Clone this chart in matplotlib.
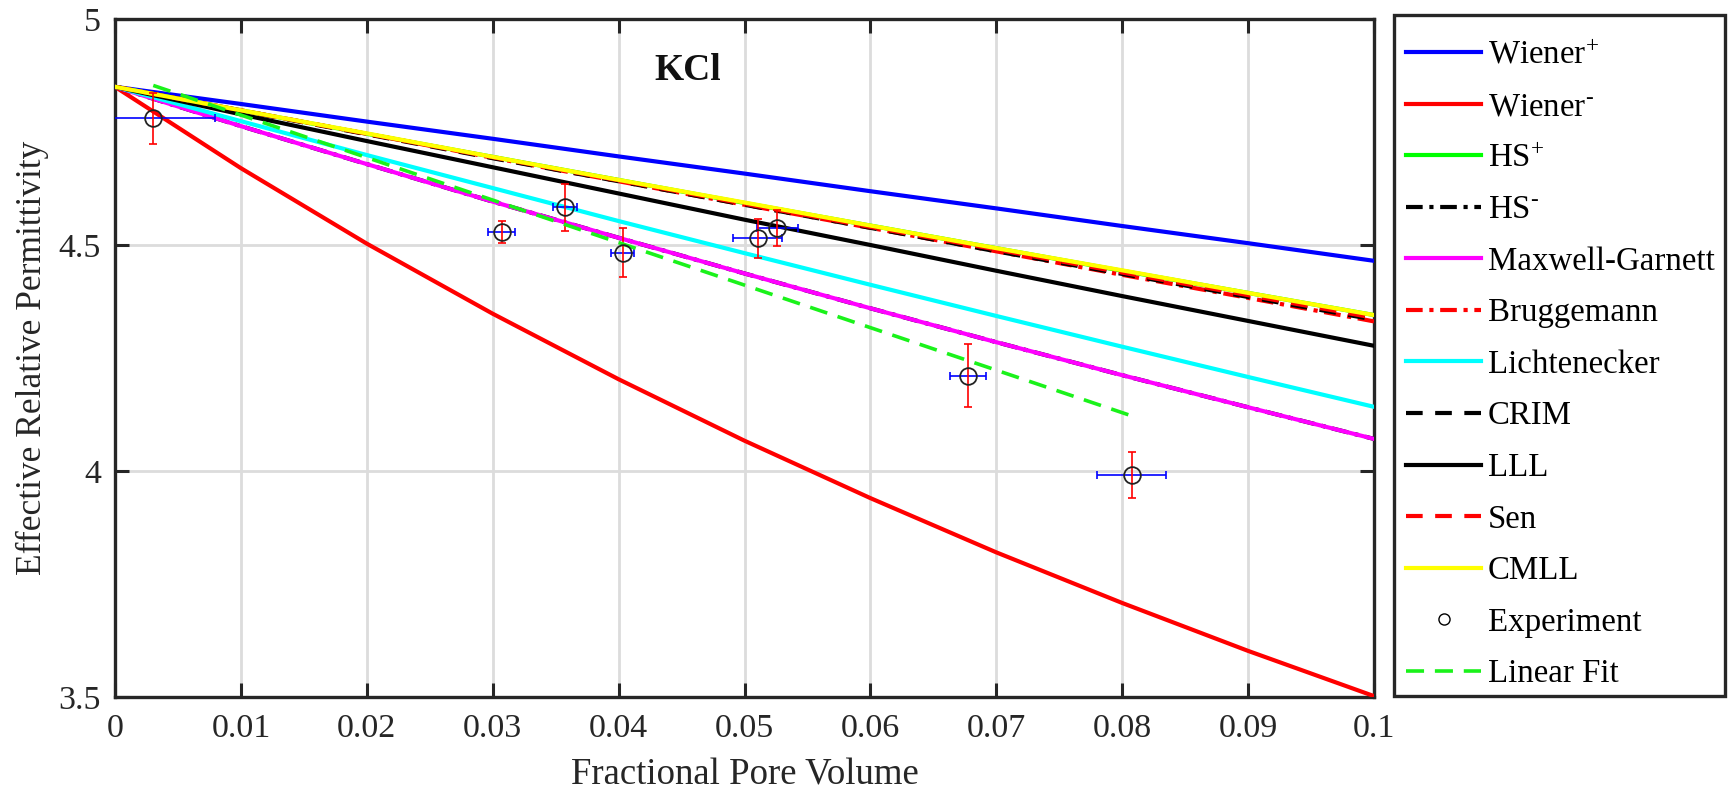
import matplotlib
matplotlib.use("Agg")
import matplotlib.pyplot as plt
from matplotlib.lines import Line2D
from matplotlib.patches import Rectangle

plt.rcParams['font.family'] = ['Liberation Serif', 'DejaVu Serif']
plt.rcParams['mathtext.fontset'] = 'custom'
plt.rcParams['mathtext.rm'] = 'Liberation Serif'
plt.rcParams['mathtext.it'] = 'Liberation Serif:italic'

# ---------------- data ----------------
pore = [0.0, 0.01, 0.02, 0.03, 0.04, 0.05, 0.06, 0.07, 0.08, 0.09, 0.10]

wiener_plus = [4.850, 4.812, 4.773, 4.735, 4.696, 4.658, 4.619, 4.581, 4.542, 4.504, 4.465]
wiener_minus = [4.850, 4.670, 4.503, 4.348, 4.203, 4.067, 3.940, 3.820, 3.708, 3.602, 3.502]
hs_plus = [4.850, 4.798, 4.746, 4.695, 4.644, 4.593, 4.543, 4.493, 4.443, 4.394, 4.345]
hs_minus = [4.850, 4.763, 4.679, 4.596, 4.516, 4.437, 4.360, 4.285, 4.212, 4.141, 4.071]
maxwell_garnett = [4.850, 4.763, 4.679, 4.596, 4.516, 4.437, 4.360, 4.285, 4.212, 4.141, 4.071]
bruggemann = [4.850, 4.798, 4.746, 4.693, 4.641, 4.589, 4.538, 4.486, 4.434, 4.383, 4.331]
lichtenecker = [4.850, 4.774, 4.699, 4.626, 4.553, 4.482, 4.412, 4.343, 4.275, 4.208, 4.142]
crim = [4.850, 4.797, 4.745, 4.692, 4.641, 4.589, 4.538, 4.486, 4.436, 4.385, 4.335]
lll = [4.850, 4.789, 4.730, 4.672, 4.614, 4.556, 4.500, 4.443, 4.387, 4.332, 4.277]
sen = [4.850, 4.798, 4.746, 4.694, 4.643, 4.591, 4.540, 4.490, 4.439, 4.389, 4.339]
cmll = [4.850, 4.798, 4.747, 4.695, 4.644, 4.594, 4.543, 4.493, 4.444, 4.394, 4.345]

exp_x = [0.00304, 0.03071, 0.03574, 0.04032, 0.05105, 0.05261, 0.06778, 0.08075]
exp_y = [4.780, 4.529, 4.583, 4.483, 4.515, 4.537, 4.211, 3.991]
exp_xerr = [0.0049, 0.00105, 0.00098, 0.0009, 0.00196, 0.0016, 0.00143, 0.00275]
exp_yerr = [0.056, 0.025, 0.053, 0.054, 0.043, 0.040, 0.070, 0.050]

fit_x = [0.00304, 0.08075]
fit_y = [4.853, 4.122]

x_ticks = [0.0, 0.01, 0.02, 0.03, 0.04, 0.05, 0.06, 0.07, 0.08, 0.09, 0.10]
x_tick_labels = ['0', '0.01', '0.02', '0.03', '0.04', '0.05', '0.06', '0.07', '0.08', '0.09', '0.1']
y_ticks = [3.5, 4.0, 4.5, 5.0]
y_tick_labels = ['3.5', '4', '4.5', '5']

# ---------------- figure ----------------
W, H = 1734, 796
fig = plt.figure(figsize=(W / 100, H / 100), dpi=100)
ax = fig.add_axes([115 / W, 1 - 697 / H, (1374 - 115) / W, (697 - 19) / H])

lw = 3.0
dashdot = (0, (4, 1.6, 1, 1.6))
dashed = (0, (4, 3))
series = [
    (wiener_plus, 'Wiener$^{+}$', (0, 0, 1), '-'),
    (wiener_minus, r'Wiener$^{\text{-}}$', (1, 0, 0), '-'),
    (hs_plus, 'HS$^{+}$', (0, 1, 0), '-'),
    (hs_minus, r'HS$^{\text{-}}$', 'k', dashdot),
    (maxwell_garnett, 'Maxwell-Garnett', (1, 0, 1), '-'),
    (bruggemann, 'Bruggemann', (1, 0, 0), dashdot),
    (lichtenecker, 'Lichtenecker', (0, 1, 1), '-'),
    (crim, 'CRIM', 'k', dashed),
    (lll, 'LLL', 'k', '-'),
    (sen, 'Sen', (1, 0, 0), dashed),
    (cmll, 'CMLL', (1, 1, 0), '-'),
]
handles = []
for vals, lab, col, ls in series:
    ax.plot(pore, vals, lw=lw, color=col, linestyle=ls, zorder=3)
    handles.append(Line2D([], [], lw=lw, color=col, linestyle=ls, label=lab))

# experiment with error bars
ax.errorbar(exp_x, exp_y, xerr=exp_xerr, fmt='none', ecolor=(0, 0, 1), elinewidth=1.2,
            capsize=3, capthick=1.2, zorder=4)
ax.errorbar(exp_x, exp_y, yerr=exp_yerr, fmt='none', ecolor=(1, 0, 0), elinewidth=1.2,
            capsize=3, capthick=1.2, zorder=4)
ax.plot(exp_x, exp_y, 'o', mfc='none', mec='#222222', ms=12, mew=1.3, zorder=5)
handles.append(Line2D([], [], ls='none', marker='o', mfc='none', mec='k', ms=8, mew=1.0,
                      label='Experiment'))

fit_col = (0.1, 0.95, 0.1)
ax.plot(fit_x, fit_y, color=fit_col, lw=2.6, ls=(0, (5, 3)), zorder=4)
handles.append(Line2D([], [], color=fit_col, lw=2.6, ls=(0, (5, 3)), label='Linear Fit'))

ax.text(0.0455, 4.887, 'KCl', fontsize=27, fontweight='bold', ha='center', va='center',
        color='#111111')

ax.set_xlim(0, 0.1)
ax.set_ylim(3.5, 5.0)
ax.set_xticks(x_ticks)
ax.set_xticklabels(x_tick_labels)
ax.set_yticks(y_ticks)
ax.set_yticklabels(y_tick_labels)
ax.tick_params(direction='in', length=10, width=2.2, color='#262626', labelsize=24.5,
               top=True, right=True, labelcolor='#262626')
ax.tick_params(axis='x', pad=12)
ax.tick_params(axis='y', pad=10)
ax.grid(True, color='#dcdcdc', lw=2.0, zorder=0)
ax.set_axisbelow(True)
for sp in ax.spines.values():
    sp.set_linewidth(2.4)
    sp.set_color('#262626')

ax.set_xlabel('Fractional Pore Volume', fontsize=26.5, color='#262626', labelpad=10)
ax.set_ylabel('Effective Relative Permittivity', fontsize=25.5, color='#262626', labelpad=7)

# legend box drawn as its own frame, entries placed inside
fig.add_artist(Rectangle((1394 / W, 1 - 696 / H), (1725 - 1394) / W, (696 - 15) / H,
                         transform=fig.transFigure, fill=False, lw=2.4, ec='#262626',
                         zorder=10))
leg = fig.legend(handles=handles, loc='upper left', bbox_to_anchor=(1406 / W, 1 - 40 / H),
                 fontsize=23.7, frameon=False, handlelength=2.28, handletextpad=0.2,
                 labelspacing=0.64, borderpad=0.0, borderaxespad=0)

fig.savefig('out.png', dpi=100)
